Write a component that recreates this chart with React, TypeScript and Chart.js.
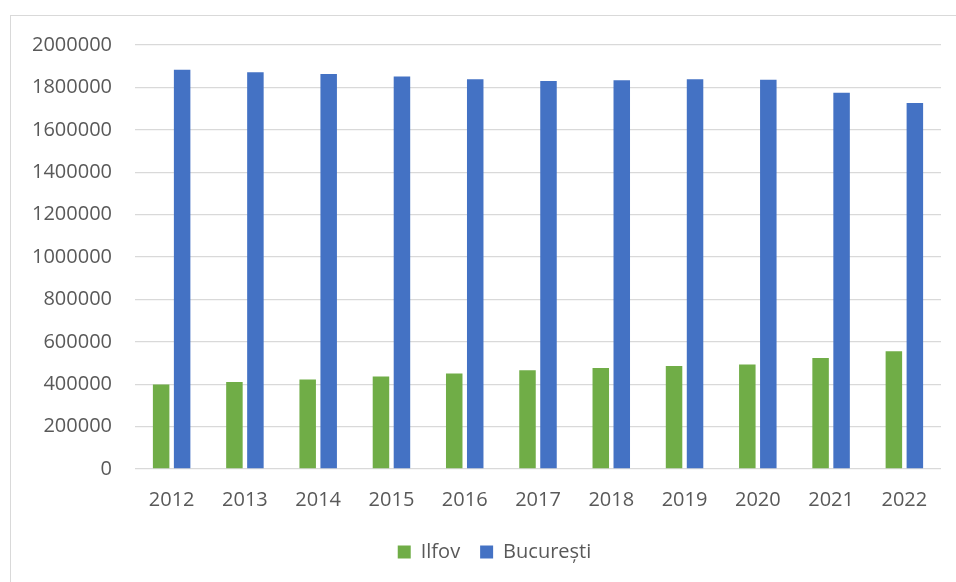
import React, { useEffect, useRef } from "react";
import { Chart, registerables } from "chart.js";

Chart.register(...registerables);

const years = ["2012", "2013", "2014", "2015", "2016", "2017", "2018", "2019", "2020", "2021", "2022"];
const ilfov = [399000, 410000, 422000, 436000, 451000, 466000, 477000, 486000, 493000, 523000, 555000];
const bucuresti = [1883000, 1872000, 1863000, 1852000, 1838000, 1830000, 1834000, 1839000, 1836000, 1775000, 1727000];
const yTicks = [0, 200000, 400000, 600000, 800000, 1000000, 1200000, 1400000, 1600000, 1800000, 2000000];

const FONT = "'Open Sans', sans-serif";
const TEXT = "#595959";

const legendShift = {
  id: "legendShift",
  afterLayout(chart: any) {
    if (chart.legend) {
      chart.legend.left += 24;
      chart.legend.right += 24;
    }
  },
};

export default function App() {
  const ref = useRef<HTMLCanvasElement | null>(null);

  useEffect(() => {
    if (!ref.current) return;
    const chart = new Chart(ref.current, {
      type: "bar",
      data: {
        labels: years,
        datasets: [
          { label: "Ilfov", data: ilfov, backgroundColor: "#70ad47", borderWidth: 0, categoryPercentage: 0.573, barPercentage: 0.786 },
          { label: "București", data: bucuresti, backgroundColor: "#4472c4", borderWidth: 0, categoryPercentage: 0.573, barPercentage: 0.786 },
        ],
      },
      options: {
        animation: false,
        responsive: false,
        maintainAspectRatio: false,
        layout: { padding: { left: 0, right: 15, top: 45, bottom: 10 } },
        plugins: {
          tooltip: { enabled: false },
          legend: {
            position: "bottom",
            labels: {
              color: TEXT,
              font: { family: FONT, size: 20 },
              boxWidth: 13,
              boxHeight: 13,
              padding: 20,
            },
          },
        },
        scales: {
          x: {
            grid: { display: false, drawTicks: false },
            border: { display: false },
            ticks: { color: TEXT, font: { family: FONT, size: 20 }, padding: 19, maxRotation: 0 },
            afterFit: (s: any) => {
              s.height = 53;
              s.paddingLeft = 0;
              s.paddingRight = 0;
            },
          },
          y: {
            min: 0,
            max: 2000000,
            afterBuildTicks: (s: any) => {
              s.ticks = yTicks.map((v) => ({ value: v }));
            },
            grid: { color: "#d9d9d9", lineWidth: 1.3, drawTicks: false },
            border: { display: false },
            ticks: {
              color: TEXT,
              font: { family: FONT, size: 20 },
              padding: 23,
              callback: (v: any) => String(v),
            },
            afterFit: (s: any) => {
              s.width = 135;
              s.paddingTop = 0;
              s.paddingBottom = 0;
            },
          },
        },
      },
      plugins: [legendShift],
    });
    return () => chart.destroy();
  }, []);

  return (
    <div style={{ position: "fixed", left: 0, top: 0, width: 956, height: 582, background: "#fff", overflow: "hidden" }}>
      <div
        style={{
          position: "absolute",
          left: 10,
          top: 15,
          width: 980,
          height: 600,
          border: "1.5px solid #d9d9d9",
          boxSizing: "border-box",
        }}
      />
      <canvas ref={ref} width={956} height={582} style={{ position: "absolute", left: 0, top: 0 }} />
    </div>
  );
}
